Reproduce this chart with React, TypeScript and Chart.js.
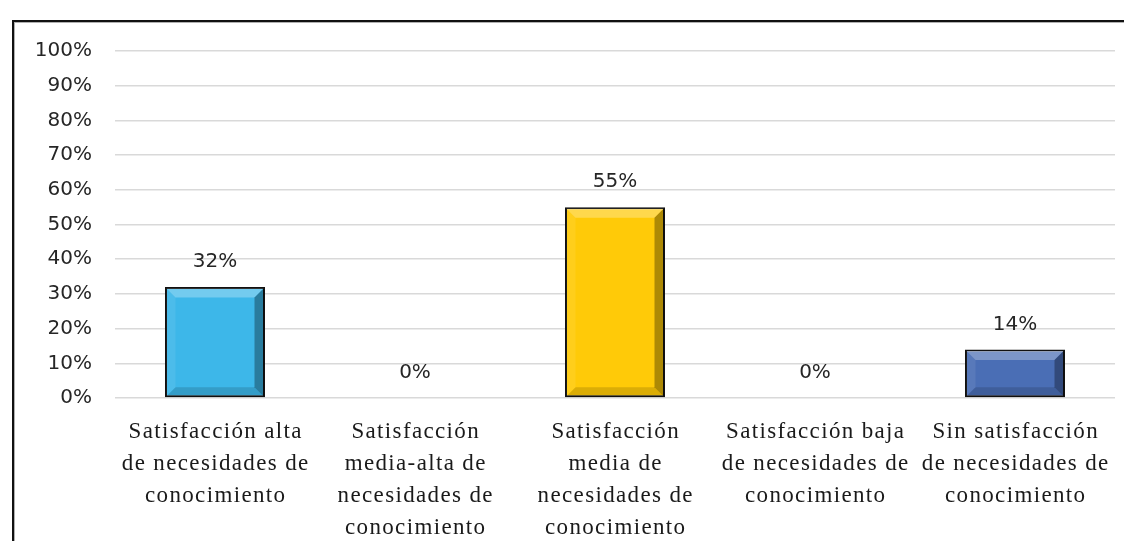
import React, { useEffect, useRef } from "react";
import { Chart, registerables } from "chart.js";

Chart.register(...registerables);

const categoryLines: string[][] = [
  ["Satisfacción alta", "de necesidades de", "conocimiento"],
  ["Satisfacción", "media-alta de", "necesidades de", "conocimiento"],
  ["Satisfacción", "media de", "necesidades de", "conocimiento"],
  ["Satisfacción baja", "de necesidades de", "conocimiento"],
  ["Sin satisfacción", "de necesidades de", "conocimiento"],
];
const values: number[] = [32, 0, 55, 0, 14];
const valueLabels: string[] = ["32%", "0%", "55%", "0%", "14%"];
const faceColors: string[] = ["#3DB7E9", "#3DB7E9", "#FFCA08", "#FFCA08", "#4A6EB5"];
const yMin = 0;
const yMax = 100;
const yStep = 10;

const W = 1124;
const H = 541;

const labelsPlugin = {
  id: "customLabels",
  afterDatasetsDraw(chart: any) {
    const ctx: CanvasRenderingContext2D = chart.ctx;
    const meta = chart.getDatasetMeta(0);
    ctx.save();
    // bevels
    meta.data.forEach((bar: any, i: number) => {
      if (values[i] === 0) return;
      const p = bar.getProps(["x", "y", "base", "width"], true);
      const l = p.x - p.width / 2 + 1.5;
      const r = p.x + p.width / 2 - 1.5;
      const t = p.y + 1.5;
      const b = p.base - 1;
      const bv = Math.min(9, (b - t) / 2);
      const poly = (pts: number[][], fill: string) => {
        ctx.beginPath();
        ctx.moveTo(pts[0][0], pts[0][1]);
        for (let k = 1; k < pts.length; k++) ctx.lineTo(pts[k][0], pts[k][1]);
        ctx.closePath();
        ctx.fillStyle = fill;
        ctx.fill();
      };
      poly([[l, t], [r, t], [r - bv, t + bv], [l + bv, t + bv]], "rgba(255,255,255,0.28)");
      poly([[l, t], [l + bv, t + bv], [l + bv, b - bv], [l, b]], "rgba(255,255,255,0.08)");
      poly([[r, t], [r, b], [r - bv, b - bv], [r - bv, t + bv]], "rgba(0,0,0,0.32)");
      poly([[l, b], [l + bv, b - bv], [r - bv, b - bv], [r, b]], "rgba(0,0,0,0.14)");
    });
    // value labels
    ctx.font = '20px "DejaVu Sans"';
    ctx.fillStyle = "#262626";
    ctx.textAlign = "center";
    ctx.textBaseline = "middle";
    meta.data.forEach((bar: any, i: number) => {
      const p = bar.getProps(["x", "y"], true);
      ctx.fillText(valueLabels[i], p.x, p.y - 25);
    });
    ctx.restore();
  },
  afterDraw(chart: any) {
    const ctx: any = chart.ctx;
    const xScale = chart.scales.x;
    const area = chart.chartArea;
    ctx.save();
    ctx.font = '23px "Liberation Serif"';
    ctx.letterSpacing = "1.35px";
    ctx.fillStyle = "#1a1a1a";
    ctx.textAlign = "center";
    ctx.textBaseline = "middle";
    categoryLines.forEach((lines, i) => {
      const x = xScale.getPixelForValue(i);
      lines.forEach((line, j) => {
        ctx.fillText(line, x + 0.7, area.bottom + 34 + j * 32);
      });
    });
    ctx.restore();
  },
};

export default function App() {
  const ref = useRef<HTMLCanvasElement | null>(null);

  useEffect(() => {
    if (!ref.current) return;
    const chart = new Chart(ref.current, {
      type: "bar",
      data: {
        labels: categoryLines.map((l) => l.join(" ")),
        datasets: [
          {
            data: values,
            backgroundColor: faceColors,
            borderColor: "#111111",
            borderWidth: values.map((v) => (v === 0 ? 0 : 2)),
            borderSkipped: false,
            barPercentage: 0.5,
            categoryPercentage: 1,
          },
        ],
      },
      options: {
        responsive: false,
        animation: false,
        layout: { padding: { top: 51, left: 0, right: 9, bottom: 0 } },
        plugins: { legend: { display: false }, tooltip: { enabled: false } },
        scales: {
          x: {
            grid: { display: false },
            border: { display: false },
            ticks: { display: false },
            afterFit: (s: any) => {
              s.height = 143;
            },
          },
          y: {
            min: yMin,
            max: yMax,
            ticks: {
              stepSize: yStep,
              callback: (v: any) => v + "%",
              font: { family: "DejaVu Sans", size: 20 },
              color: "#262626",
              padding: 23,
            },
            grid: { color: "#d9d9d9", lineWidth: 1.5, drawTicks: false },
            border: { display: false },
            afterFit: (s: any) => {
              s.width = 115;
            },
          },
        },
      },
      plugins: [labelsPlugin],
    });
    return () => chart.destroy();
  }, []);

  return (
    <div
      style={{
        position: "fixed",
        left: 0,
        top: 0,
        width: W,
        height: H,
        background: "#ffffff",
        overflow: "hidden",
      }}
    >
      <div
        style={{
          position: "absolute",
          left: 12,
          top: 20,
          width: 1300,
          height: 700,
          borderLeft: "2px solid #111",
          borderTop: "2px solid #111",
          boxShadow: "inset 1px 1px 0 #b0b0b0",
        }}
      />
      <canvas
        ref={ref}
        width={W}
        height={H}
        style={{ position: "absolute", left: 0, top: 0, width: W, height: H }}
      />
    </div>
  );
}
